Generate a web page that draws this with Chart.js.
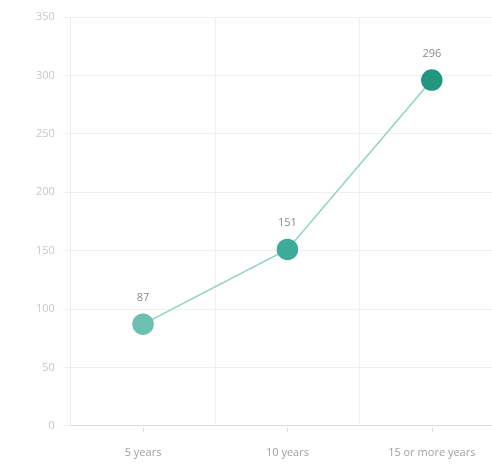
<!DOCTYPE html>
<html>
<head>
<meta charset="utf-8">
<script src="https://cdn.jsdelivr.net/npm/chart.js@4"></script>
<style>
  html, body { margin:0; padding:0; background:#fff; overflow:hidden; }
  canvas { display:block; }
</style>
</head>
<body>
<canvas id="chart" width="504" height="465"></canvas>
<script>
const categories  = ['5 years', '10 years', '15 or more years'];
const values      = [87, 151, 296];
const pointColors = ['#6dbfb0', '#3dab97', '#21977f'];
const yTicks      = [0, 50, 100, 150, 200, 250, 300, 350];

// value labels above each point
const valueLabels = {
  id:'valueLabels',
  afterDatasetsDraw(chart) {
    const { ctx } = chart;
    const meta = chart.getDatasetMeta(0);
    ctx.save();
    ctx.font = '11px "Open Sans", sans-serif';
    ctx.fillStyle = '#8a8a8a';
    ctx.textAlign = 'center';
    ctx.textBaseline = 'bottom';
    meta.data.forEach((pt, i) => ctx.fillText(values[i], pt.x, pt.y - 21));
    ctx.restore();
  }
};

// small tick marks under the axis at category centres
const centreTicks = {
  id:'centreTicks',
  afterDraw(chart) {
    const { ctx, scales:{ x } } = chart;
    ctx.save();
    ctx.strokeStyle = '#d8d8d8';
    ctx.lineWidth = 1;
    x.ticks.forEach((t, i) => {
      const px = Math.round(x.getPixelForTick(i)) + 0.5;
      ctx.beginPath(); ctx.moveTo(px, x.top + 2); ctx.lineTo(px, x.top + 6); ctx.stroke();
    });
    ctx.restore();
  }
};

// canvas is a bit wider than the window: the plot runs past the right edge like the original crop
new Chart(document.getElementById('chart'), {
  type:'line',
  data:{ labels:categories, datasets:[{
    data:values,
    borderColor:'#8fd1c4', borderWidth:1.5,
    pointBackgroundColor:pointColors, pointBorderColor:pointColors,
    pointRadius:10, pointHoverRadius:10, tension:0,
  }]},
  options:{
    responsive:false, animation:false, devicePixelRatio:1,
    layout:{ autoPadding:false, padding:{ top:17, left:28, right:0, bottom:-14 } },
    plugins:{ legend:{ display:false }, tooltip:{ enabled:false } },
    scales:{
      x:{ offset:true,
        grid:{ color:'#f0f0f0', offset:true, drawTicks:false },
        border:{ color:'#dcdcdc' },
        ticks:{ color:'#a0a0a0', font:{ family:'"Open Sans", sans-serif', size:11 }, padding:20 } },
      y:{ min:0, max:350,
        afterBuildTicks:ax => { ax.ticks = yTicks.map(v => ({ value:v })); },
        grid:{ color:'#f0f0f0', tickLength:8 },
        border:{ color:'#ececec' },
        ticks:{ color:'#c8c8c8', font:{ family:'"Open Sans", sans-serif', size:11 }, padding:8 } },
    },
  },
  plugins:[valueLabels, centreTicks],
});
</script>
</body>
</html>
